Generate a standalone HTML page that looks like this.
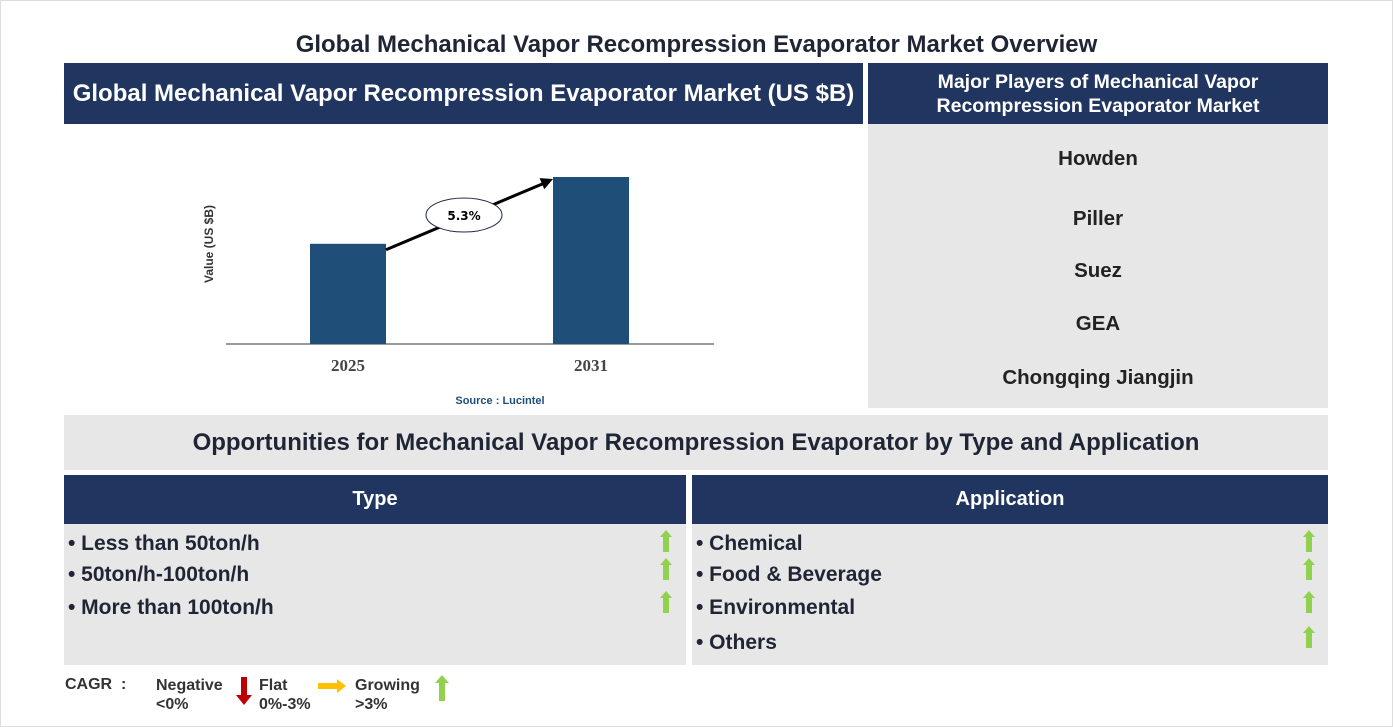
<!DOCTYPE html>
<html><head><meta charset="utf-8">
<style>
*{margin:0;padding:0;box-sizing:border-box}
body{width:1393px;height:727px;background:#fff;font-family:"Liberation Sans",Arial,sans-serif;position:relative;overflow:hidden}
.frame{position:absolute;left:0;top:0;width:1393px;height:727px;border:1px solid #ddd}
.abs{position:absolute}
.navy{background:#203560;color:#fff;font-weight:bold;display:flex;align-items:center;justify-content:center;text-align:center}
.grey{background:#e7e7e7}
.item{position:absolute;font-size:21px;font-weight:bold;color:#1f2535}
.player{position:absolute;left:868px;width:460px;text-align:center;font-size:20.5px;font-weight:bold;color:#222}
.up{position:absolute;width:12px;height:22px}
</style></head><body>
<div class="frame"></div>
<div class="abs" style="left:0;top:31px;width:1393px;text-align:center;font-size:24px;font-weight:bold;color:#1f2535">Global Mechanical Vapor Recompression Evaporator Market Overview</div>

<div class="abs navy" style="left:64px;top:63px;width:799px;height:61px;font-size:24px">Global Mechanical Vapor Recompression Evaporator Market (US $B)</div>
<div class="abs navy" style="left:868px;top:63px;width:460px;height:61px;font-size:19.5px;line-height:24px">Major Players of Mechanical Vapor<br>Recompression Evaporator Market</div>
<div class="abs grey" style="left:868px;top:124px;width:460px;height:284px"></div>
<div class="player" style="top:147px">Howden</div>
<div class="player" style="top:207px">Piller</div>
<div class="player" style="top:259px">Suez</div>
<div class="player" style="top:312px">GEA</div>
<div class="player" style="top:366px">Chongqing Jiangjin</div>

<svg class="abs" style="left:0;top:124px" width="863" height="290">
<g id="chart"></g>
</svg>

<div class="abs grey" style="left:64px;top:415px;width:1264px;height:55px;display:flex;align-items:center;justify-content:center;font-size:24px;font-weight:bold;color:#1f2535">Opportunities for Mechanical Vapor Recompression Evaporator by Type and Application</div>
<div class="abs navy" style="left:64px;top:475px;width:622px;height:49px;font-size:20px">Type</div>
<div class="abs navy" style="left:692px;top:475px;width:636px;height:49px;font-size:20px">Application</div>
<div class="abs grey" style="left:64px;top:524px;width:622px;height:141px"></div>
<div class="abs grey" style="left:692px;top:524px;width:636px;height:141px"></div>

<div class="item" style="left:68px;top:532px">• Less than 50ton/h</div>
<div class="item" style="left:68px;top:563px">• 50ton/h-100ton/h</div>
<div class="item" style="left:68px;top:596px">• More than 100ton/h</div>
<div class="item" style="left:696px;top:532px">• Chemical</div>
<div class="item" style="left:696px;top:563px">• Food &amp; Beverage</div>
<div class="item" style="left:696px;top:596px">• Environmental</div>
<div class="item" style="left:696px;top:631px">• Others</div>

<svg class="up" style="left:660px;top:530px" viewBox="0 0 12 22"><polygon points="6,0 12,7 9,7 9,22 3,22 3,7 0,7" fill="#92d050"/></svg>
<svg class="up" style="left:660px;top:558px" viewBox="0 0 12 22"><polygon points="6,0 12,7 9,7 9,22 3,22 3,7 0,7" fill="#92d050"/></svg>
<svg class="up" style="left:660px;top:591px" viewBox="0 0 12 22"><polygon points="6,0 12,7 9,7 9,22 3,22 3,7 0,7" fill="#92d050"/></svg>
<svg class="up" style="left:1303px;top:530px" viewBox="0 0 12 22"><polygon points="6,0 12,7 9,7 9,22 3,22 3,7 0,7" fill="#92d050"/></svg>
<svg class="up" style="left:1303px;top:558px" viewBox="0 0 12 22"><polygon points="6,0 12,7 9,7 9,22 3,22 3,7 0,7" fill="#92d050"/></svg>
<svg class="up" style="left:1303px;top:591px" viewBox="0 0 12 22"><polygon points="6,0 12,7 9,7 9,22 3,22 3,7 0,7" fill="#92d050"/></svg>
<svg class="up" style="left:1303px;top:626px" viewBox="0 0 12 22"><polygon points="6,0 12,7 9,7 9,22 3,22 3,7 0,7" fill="#92d050"/></svg>

<div class="abs" style="left:65px;top:676px;font-size:16px;font-weight:bold;color:#333">CAGR&nbsp; :</div>
<div class="abs" style="left:156px;top:676px;font-size:16px;font-weight:bold;color:#333;line-height:19px">Negative<br>&lt;0%</div>
<svg class="abs" style="left:236px;top:677px" width="16" height="28"><polygon points="5,0 11,0 11,18 16,18 8,28 0,18 5,18" fill="#c00000"/></svg>
<div class="abs" style="left:259px;top:676px;font-size:16px;font-weight:bold;color:#333;line-height:19px">Flat<br>0%-3%</div>
<svg class="abs" style="left:318px;top:679px" width="28" height="14"><polygon points="0,4 19,4 19,0 28,7 19,14 19,10 0,10" fill="#ffc000"/></svg>
<div class="abs" style="left:355px;top:676px;font-size:16px;font-weight:bold;color:#333;line-height:19px">Growing<br>&gt;3%</div>
<svg class="abs" style="left:435px;top:675px" width="14" height="26"><polygon points="7,0 14,8 10,8 10,26 4,26 4,8 0,8" fill="#92d050"/></svg>

<script>
const categories = ["2025", "2031"];
const values = [1.2, 2.0];
const cagrLabel = "5.3%";
const ns = "http://www.w3.org/2000/svg";
const g = document.getElementById('chart');
const baseY = 220, pxPerUnit = 83.5;
const centers = [348, 591], barW = 76;
function yScale(v){ return baseY - v * pxPerUnit; }
function mk(t, a){ const e=document.createElementNS(ns,t); for(const k in a) e.setAttribute(k,a[k]); g.appendChild(e); return e; }
const axis = mk('line',{x1:226,x2:714,y1:baseY,y2:baseY,stroke:'#333','stroke-width':1});


const yt = mk('text',{x:0,y:0,transform:'translate(213,'+(baseY-100)+') rotate(-90)','text-anchor':'middle','font-size':12,'font-weight':'bold',fill:'#333','font-family':'Liberation Sans, sans-serif'});
yt.textContent='Value (US $B)';


const tops=[];
categories.forEach((c,i)=>{
  const y=yScale(values[i]);
  tops.push([centers[i],y]);
  const r=mk('rect',{x:centers[i]-barW/2,y:y,width:barW,height:baseY-y,fill:'#1f4e79'});
  
  
  const t=mk('text',{x:centers[i],y:baseY+27,'text-anchor':'middle','font-size':17,'font-weight':'bold',fill:'#444','font-family':'Liberation Serif, serif'});
  t.textContent=c;
  
  
});
const x1=tops[0][0]+barW/2, y1=tops[0][1]+6, x2=tops[1][0]-barW/2, y2=tops[1][1]+2;
const ln=mk('line',{x1:x1,y1:y1,x2:x2-6,y2:y2+3,stroke:'#000','stroke-width':3});


const ang=Math.atan2(y2-y1,x2-x1);
const hx=x2,hy=y2,L=12,W=6;
const p1=[hx-L*Math.cos(ang)+W*Math.sin(ang),hy-L*Math.sin(ang)-W*Math.cos(ang)];
const p2=[hx-L*Math.cos(ang)-W*Math.sin(ang),hy-L*Math.sin(ang)+W*Math.cos(ang)];
const hd=mk('polygon',{points:hx+','+hy+' '+p1.join(',')+' '+p2.join(','),fill:'#000'});


const el=mk('ellipse',{cx:464,cy:91,rx:38,ry:17,fill:'#fff',stroke:'#1f2a44','stroke-width':1});


const ct=mk('text',{x:464,y:96,'text-anchor':'middle','font-size':12,'font-weight':'bold',fill:'#000','font-family':'DejaVu Sans, sans-serif'});
ct.textContent=cagrLabel;


const src=mk('text',{x:500,y:280,'text-anchor':'middle','font-size':11,'font-weight':'bold',fill:'#1f4e79','font-family':'Liberation Sans, sans-serif'});
src.textContent='Source : Lucintel';


</script>
</body></html>
